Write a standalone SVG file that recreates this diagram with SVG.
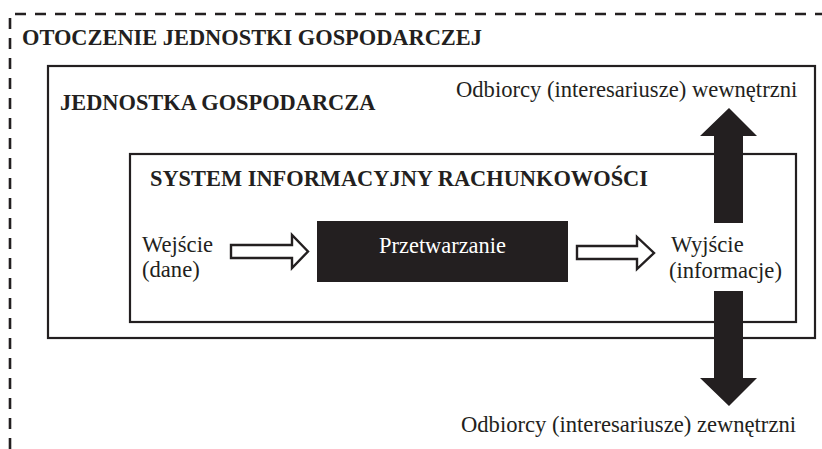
<svg xmlns="http://www.w3.org/2000/svg" width="822" height="449" viewBox="0 0 822 449">
<style>
.frame{fill:none;stroke:#231f20;stroke-width:2.2}
.dash{fill:none;stroke:#231f20;stroke-width:2.6;stroke-dasharray:11 9}
text{font-family:'Liberation Serif','DejaVu Serif',serif}
.b{font-weight:bold;font-size:22.4px;fill:#231f20}
.r{font-size:22.6px;fill:#231f20}
.w{font-size:22.4px;fill:#ffffff}
.hollow{fill:#ffffff;stroke:#231f20;stroke-width:2.4;stroke-linejoin:miter}
.solid{fill:#231f20}
</style>
<rect width="822" height="449" fill="#ffffff"/>
<g id="otoczenie">
<path class="dash" d="M10,449 V14 H822"/>
<text class="b" x="22" y="45">OTOCZENIE JEDNOSTKI GOSPODARCZEJ</text>
</g>
<g id="jednostka">
<rect class="frame" x="48" y="66" width="767" height="272"/>
<text class="b" x="60" y="110">JEDNOSTKA GOSPODARCZA</text>
</g>
<g id="system">
<rect class="frame" x="130" y="154" width="666" height="168"/>
<text class="b" x="150" y="186">SYSTEM INFORMACYJNY RACHUNKOWOŚCI</text>
</g>
<g id="wejscie">
<text class="r" x="142" y="252">Wejście</text>
<text class="r" x="142" y="277">(dane)</text>
</g>
<g id="przetwarzanie">
<rect class="solid" x="317" y="221" width="251" height="61"/>
<text class="w" x="442.5" y="253" text-anchor="middle">Przetwarzanie</text>
</g>
<g id="wyjscie">
<text class="r" x="671" y="252">Wyjście</text>
<text class="r" x="669" y="278">(informacje)</text>
</g>
<g id="odbiorcy-wewnetrzni">
<text class="r" x="456" y="97">Odbiorcy (interesariusze) wewnętrzni</text>
</g>
<g id="odbiorcy-zewnetrzni">
<text class="r" x="461" y="432">Odbiorcy (interesariusze) zewnętrzni</text>
</g>
<g id="connectors">
<polygon class="hollow" points="231,245 292,245 292,235 308,251.5 292,268 292,258 231,258"/>
<polygon class="hollow" points="577,246 637,246 637,237 654,253 637,269 637,259 577,259"/>
<polygon class="solid" points="714,223 714,136 700,136 729,108 757,136 743,136 743,223"/>
<polygon class="solid" points="714,291 714,378 700,378 729,406 757,378 743,378 743,291"/>
</g>
</svg>
